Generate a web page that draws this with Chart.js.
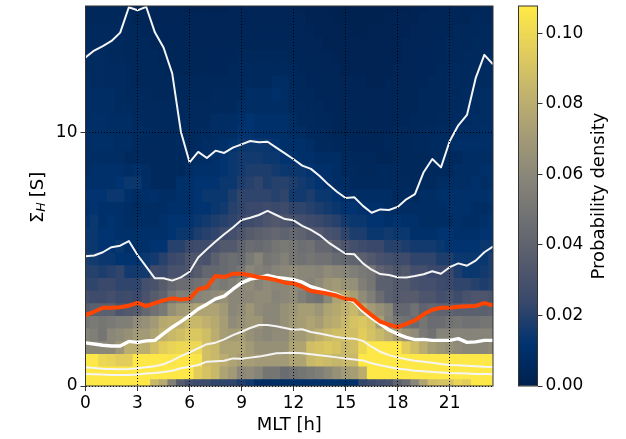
<!DOCTYPE html>
<html>
<head>
<meta charset="utf-8">
<title>Hall conductance vs MLT</title>
<script src="https://cdn.jsdelivr.net/npm/chart.js@4"></script>
<style>
  body { margin: 0; background: #fff; }
  canvas { position: absolute; left: 0; top: 0; }
</style>
</head>
<body>
<canvas id="mainChart" width="626" height="439"></canvas>
<canvas id="colorBar" width="626" height="439"></canvas>
<script>
// Bin centres of the 2D histogram
const mlt = [0,0.5,1,1.5,2,2.5,3,3.5,4,4.5,5,5.5,6,6.5,7,7.5,8,8.5,9,9.5,10,10.5,11,11.5,
             12,12.5,13,13.5,14,14.5,15,15.5,16,16.5,17,17.5,18,18.5,19,19.5,20,20.5,21,21.5,22,22.5,23,23.5];
const sigmaH = [0,0.5,1,1.5,2,2.5,3,3.5,4,4.5,5,5.5,6,6.5,7,7.5,8,8.5,9,9.5,10,10.5,11,11.5,12,12.5,13,13.5,14,14.5,15];
const xTickStep = 3;
const yTickStep = 10;
const barTickStep = 0.02;
const densityMax = 0.1078;

// Probability density per row, in thousandths
const row00 = [107,107,107,107,107,107,107,107,85,78,55,35,28,25,25,22,22,22,18,15,8,8,8,8,
               10,10,10,10,10,10,10,10,22,25,28,30,40,45,60,75,88,90,90,98,95,107,107,107];
const row05 = [107,107,107,107,107,107,107,107,107,107,107,107,107,95,90,85,75,70,60,62,58,50,50,45,
               48,50,52,55,60,65,70,72,80,107,107,107,107,107,107,107,107,107,107,107,107,107,107,107];
const row10 = [107,107,100,98,95,95,107,107,107,107,105,107,107,105,88,85,80,75,72,72,70,70,70,70,
               75,75,85,88,86,84,85,85,107,107,107,107,107,107,107,107,107,107,107,107,107,107,107,107];
const row15 = [60,60,60,60,68,80,80,80,88,95,98,100,100,100,88,85,75,75,75,70,65,65,65,65,
               75,75,88,90,92,90,85,88,100,107,107,107,107,95,88,80,72,68,65,62,60,60,60,62];
const row20 = [58,55,50,60,62,65,70,70,75,82,85,88,92,92,88,80,72,70,72,65,62,60,62,62,
               70,70,75,80,85,88,88,88,95,90,85,80,72,65,62,52,48,58,58,58,58,58,58,58];
const row25 = [50,52,50,52,55,55,62,65,70,78,80,80,85,85,82,78,72,62,65,68,68,60,60,65,
               70,72,75,72,78,80,85,90,92,88,72,58,50,48,45,50,45,45,48,50,48,48,50,50];
const row30 = [35,38,38,38,32,34,35,42,48,52,65,70,72,75,75,75,70,60,62,68,62,60,60,65,
               68,72,72,68,75,78,82,85,78,70,65,60,42,42,48,40,42,40,40,38,38,38,38,40];
const row35 = [28,26,26,28,25,26,24,30,36,40,50,55,55,58,60,62,65,60,60,60,62,62,58,60,
               62,55,50,48,60,75,78,72,62,55,45,38,35,36,36,32,32,28,30,26,30,32,32,30];
const row40 = [22,22,24,24,22,22,22,28,30,36,42,45,45,48,50,55,52,55,60,62,58,62,60,60,
               62,60,58,62,68,70,66,64,55,50,38,38,34,34,30,28,28,26,24,22,22,20,18,20];
const row45 = [20,20,18,20,22,16,16,16,26,24,30,30,32,36,42,42,44,46,50,60,56,54,58,60,
               62,60,60,58,62,60,58,55,52,50,40,36,32,34,28,28,24,24,24,18,14,14,16,18];
const row50 = [18,16,14,14,12,12,12,14,16,20,24,26,32,32,30,38,44,46,44,52,58,50,52,56,
               50,48,50,48,48,44,42,40,38,34,30,28,26,26,22,22,22,18,18,14,14,14,14,18];
const row55 = [15,14,12,12,14,10,10,10,12,12,20,20,24,26,26,30,34,34,40,45,44,46,50,52,
               50,46,48,42,42,36,32,28,26,24,24,20,20,18,16,16,16,14,12,12,12,12,14,14];
const row60 = [14,14,12,12,10,10,10,10,10,10,12,14,14,18,20,22,26,28,32,36,38,40,42,40,
               42,40,36,34,30,28,22,18,18,14,14,16,14,14,10,10,10,12,12,10,10,10,12,12];
const row65 = [12,14,10,12,10,8,8,8,8,10,12,12,12,14,16,18,20,22,24,26,28,32,34,32,
               30,28,26,24,22,20,16,14,14,12,12,10,12,10,10,8,8,8,8,10,8,8,10,12];
const row70 = [10,12,10,10,10,8,7,8,8,8,10,10,10,12,12,14,16,20,22,24,24,26,24,26,
               22,22,20,18,16,14,12,12,10,10,10,8,8,8,8,8,8,8,10,10,10,8,8,10];
const row75 = [12,12,12,14,14,10,8,9,10,8,8,10,10,12,14,14,14,18,22,22,22,22,20,22,
               16,16,18,14,14,12,10,8,8,8,8,8,6,6,6,8,8,10,10,10,10,10,10,12];
const row80 = [10,10,10,10,12,14,14,8,6,6,6,10,10,12,12,12,14,14,18,20,22,18,20,20,
               18,16,14,12,10,8,8,6,6,6,6,6,6,6,5,6,6,8,8,8,8,10,8,10];
const row85 = [8,10,10,10,10,8,10,8,6,6,6,6,8,10,10,10,12,14,16,18,18,18,16,14,
               14,14,12,10,10,8,6,6,5,5,6,6,6,5,5,5,6,6,6,8,8,8,10,10];
const row90 = [8,8,8,8,8,6,6,6,6,6,6,6,6,8,8,10,12,14,16,16,16,14,14,12,
               12,10,10,8,8,8,6,5,5,5,4,4,5,5,5,5,6,6,6,6,8,8,8,8];
const row95 = [8,9,9,9,8,8,7,6,6,6,6,6,6,7,8,8,10,12,14,14,14,14,12,10,
               10,10,8,6,6,5,5,4,4,4,4,5,5,5,6,6,7,7,8,9,9,9,9,9];
const row100 = [9,9,9,8,8,8,7,7,6,6,6,6,6,7,7,8,8,8,12,12,10,10,10,10,
                8,8,6,6,5,4,4,4,4,4,4,4,5,5,5,6,6,7,7,8,8,8,9,9];
const row105 = [8,9,9,8,8,8,7,6,6,6,6,6,6,6,6,8,8,8,10,12,10,10,10,10,
                8,6,6,5,5,4,4,4,3,3,3,3,4,4,5,5,5,6,6,7,7,8,8,8];
const row110 = [8,8,8,8,7,7,6,6,6,6,6,6,6,6,6,6,6,6,8,8,8,8,8,8,
                6,6,5,5,4,4,3,3,3,3,3,3,4,4,4,5,5,5,6,6,7,7,8,8];
const row115 = [8,8,8,8,7,6,6,6,5,5,5,5,5,5,5,6,6,6,6,8,8,8,10,8,
                6,5,5,4,4,3,3,3,3,3,3,3,3,4,4,5,5,5,6,6,7,7,8,8];
const row120 = [8,7,7,7,7,6,5,5,5,5,5,5,5,5,5,5,5,5,6,6,6,6,8,8,
                5,5,4,4,4,3,3,3,3,2,2,3,3,3,4,4,5,5,6,6,6,7,7,7];
const row125 = [7,7,7,7,7,6,5,5,5,5,4,4,4,4,4,4,4,5,5,6,6,6,6,6,
                5,4,4,4,3,3,2,2,2,2,2,2,3,3,3,4,4,5,5,6,6,6,7,7];
const row130 = [7,7,7,6,6,5,5,5,5,4,4,4,4,4,4,4,4,4,5,5,5,5,5,5,
                4,4,3,3,3,2,2,2,2,2,2,2,2,3,3,4,4,4,5,5,6,6,6,7];
const row135 = [7,6,6,6,6,5,5,5,4,4,4,4,3,3,3,3,3,4,4,4,4,4,4,4,
                4,3,3,3,2,2,2,2,2,2,2,2,2,3,3,3,4,4,5,5,5,6,6,6];
const row140 = [6,6,6,6,6,5,5,4,4,4,3,3,3,3,3,3,3,3,3,4,4,4,4,4,
                3,3,3,2,2,2,2,1,1,2,2,2,2,2,3,3,3,4,4,5,5,5,6,6];
const row145 = [5,5,5,5,5,5,4,4,3,3,3,3,3,3,3,3,3,3,3,3,3,3,3,3,
                3,3,2,2,2,1,1,1,1,1,1,2,2,2,2,3,3,3,4,4,4,5,5,5];
const row150 = [5,5,5,5,5,4,4,3,3,3,3,3,2,2,2,2,2,3,3,3,3,3,3,3,
                3,2,2,2,1,1,1,1,1,1,1,1,1,1,2,2,3,3,3,4,4,4,5,5];

const densityRows = [row00,row05,row10,row15,row20,row25,row30,row35,row40,row45,row50,
                     row55,row60,row65,row70,row75,row80,row85,row90,row95,row100,
                     row105,row110,row115,row120,row125,row130,row135,row140,row145,row150];

// Percentile and mean curves
const p95 = [12.97,13.24,13.42,13.62,13.95,14.95,14.83,14.97,13.96,13.36,12.34,10.04,8.83,9.24,9.0,9.29,9.2,9.41,9.54,9.67,9.62,9.64,9.41,9.18,
             8.95,8.70,8.57,8.29,7.96,7.67,7.42,7.45,7.11,6.84,6.97,6.95,7.07,7.37,7.57,8.44,8.96,8.63,9.66,10.29,10.7,12.15,13.07,12.70];
const p75 = [5.12,5.15,5.28,5.48,5.54,5.72,5.17,4.71,4.25,4.25,4.16,4.29,4.51,5.07,5.40,5.70,5.99,6.26,6.55,6.64,6.75,6.91,6.75,6.59,
             6.54,6.32,6.16,5.96,5.67,5.44,5.22,5.20,4.84,4.59,4.42,4.38,4.29,4.28,4.34,4.41,4.53,4.43,4.69,4.84,4.75,4.95,5.28,5.50];
const meanLine = [2.80,2.93,3.09,3.09,3.11,3.17,3.28,3.15,3.27,3.38,3.46,3.41,3.44,3.82,3.90,4.34,4.30,4.43,4.43,4.37,4.29,4.25,4.18,4.08,
                  4.05,3.92,3.75,3.70,3.64,3.56,3.44,3.40,3.07,2.80,2.54,2.42,2.32,2.45,2.59,2.83,3.01,3.09,3.09,3.13,3.15,3.16,3.27,3.19];
const p50 = [1.70,1.66,1.61,1.58,1.58,1.76,1.72,1.78,1.80,2.07,2.32,2.54,2.78,3.04,3.23,3.44,3.55,3.82,4.07,4.22,4.28,4.37,4.29,4.25,
             4.20,4.10,3.92,3.82,3.72,3.62,3.44,3.33,2.96,2.69,2.45,2.21,2.05,1.92,1.83,1.84,1.80,1.80,1.80,1.87,1.72,1.74,1.80,1.80];
const p25 = [0.74,0.71,0.68,0.67,0.66,0.67,0.70,0.74,0.78,0.86,1.00,1.18,1.33,1.49,1.65,1.71,1.84,2.01,2.14,2.29,2.41,2.41,2.36,2.29,
             2.22,2.24,2.13,2.07,2.00,1.93,1.88,1.87,1.78,1.55,1.35,1.22,1.13,1.06,1.00,0.96,0.92,0.87,0.83,0.82,0.80,0.78,0.76,0.75];
const p05 = [0.47,0.46,0.45,0.43,0.43,0.43,0.45,0.49,0.51,0.55,0.60,0.70,0.76,0.83,0.96,0.98,1.00,1.09,1.08,1.12,1.16,1.22,1.29,1.30,
             1.31,1.29,1.25,1.21,1.17,1.13,1.09,1.05,1.01,0.90,0.82,0.75,0.68,0.65,0.60,0.58,0.55,0.53,0.51,0.50,0.49,0.47,0.47,0.46];

// Cividis colormap stops
const cividis = ['#00204d','#00336f','#39486b','#575c6d','#707173','#8a8779','#a69d75','#c4b56c','#e4cf5b','#ffea46'];

function hexToRgb(hex) {
    return [1, 3, 5].map(i => parseInt(hex.substr(i, 2), 16));
}

// Density value to a colour along the colormap
function densityColor(value) {
    let t = Math.min(value / densityMax, 1) * (cividis.length - 1);
    let i = Math.min(Math.floor(t), cividis.length - 2);
    let a = hexToRgb(cividis[i]);
    let b = hexToRgb(cividis[i + 1]);
    let f = t - i;
    let rgb = a.map((c, k) => Math.round(c + (b[k] - c) * f));
    return `rgb(${rgb[0]},${rgb[1]},${rgb[2]})`;
}

const tickFont = { family: '"DejaVu Sans"', size: 17 };
const labelFont = { family: '"DejaVu Sans"', size: 18 };
const frameColor = '#333';

// Box around the plot area, like the axes spines
const framePlugin = {
    id: 'frame',
    afterDraw(chart) {
        let a = chart.chartArea;
        let ctx = chart.ctx;
        ctx.save();
        ctx.strokeStyle = frameColor;
        ctx.lineWidth = 1;
        ctx.strokeRect(a.left, a.top, a.right - a.left, a.bottom - a.top);
        ctx.restore();
    }
};

// The y label needs a subscript, the axis title can't do that
const sigmaLabelPlugin = {
    id: 'sigmaLabel',
    afterDraw(chart) {
        let ctx = chart.ctx;
        ctx.save();
        ctx.translate(38, 195);
        ctx.rotate(-Math.PI / 2);
        ctx.fillStyle = '#000';
        ctx.textBaseline = 'middle';
        ctx.textAlign = 'left';
        ctx.font = '18px "DejaVu Sans"';
        ctx.fillText('Σ', -28, 0);
        let x = -28 + ctx.measureText('Σ').width;
        ctx.font = 'italic 12.6px "DejaVu Sans"';
        ctx.fillText('H', x, 4);
        x += ctx.measureText('H').width + 5;
        ctx.font = '18px "DejaVu Sans"';
        ctx.fillText('[S]', x, 0);
        ctx.restore();
    }
};

// Right axis titles turn the other way in Chart.js, the colour bar label reads upwards
const barLabelPlugin = {
    id: 'barLabel',
    afterDraw(chart) {
        let ctx = chart.ctx;
        ctx.save();
        ctx.translate(599, 196);
        ctx.rotate(-Math.PI / 2);
        ctx.fillStyle = '#000';
        ctx.textBaseline = 'middle';
        ctx.textAlign = 'center';
        ctx.font = '18px "DejaVu Sans"';
        ctx.fillText('Probability density', 0, 0);
        ctx.restore();
    }
};

// One floating bar dataset per row of the histogram
const heatDatasets = densityRows.map((row, r) => ({
    type: 'bar',
    order: 2,
    grouped: false,
    barPercentage: 1,
    categoryPercentage: 1,
    borderWidth: 0,
    inflateAmount: 0.4,
    data: row.map((v, c) => ({ x: mlt[c], y: [sigmaH[r] - 0.25, sigmaH[r] + 0.25] })),
    backgroundColor: row.map(v => densityColor(v / 1000))
}));

function curve(values, color, width, order) {
    return {
        type: 'line',
        order: order,
        data: values.map((v, c) => ({ x: mlt[c], y: v })),
        borderColor: color,
        borderWidth: width,
        pointRadius: 0,
        tension: 0,
        borderJoinStyle: 'round'
    };
}

const lineDatasets = [
    curve(meanLine, '#ff4500', 4, 0),
    curve(p50, '#ffffff', 3.4, 1),
    curve(p95, '#f5f5f5', 2, 1),
    curve(p75, '#f5f5f5', 2, 1),
    curve(p25, '#f5f5f5', 2, 1),
    curve(p05, '#f5f5f5', 2, 1)
];

new Chart(document.getElementById('mainChart'), {
    type: 'bar',
    data: { datasets: lineDatasets.concat(heatDatasets) },
    options: {
        responsive: false,
        animation: false,
        events: [],
        layout: { padding: { top: 6, right: 133, left: 0, bottom: 0 } },
        plugins: { legend: { display: false }, tooltip: { enabled: false } },
        scales: {
            x: {
                type: 'linear',
                offset: false,
                min: 0,
                max: 23.5,
                afterFit(scale) { scale.height = 53; },
                grid: { offset: false, color: '#000', lineWidth: 1, z: 1, tickLength: 5, tickColor: frameColor, tickBorderDash: [] },
                border: { display: false, dash: [1, 2] },
                ticks: { stepSize: xTickStep, includeBounds: false, autoSkip: false, maxRotation: 0, color: '#000', font: tickFont, padding: 2 },
                title: { display: true, text: 'MLT [h]', color: '#000', font: labelFont, padding: { top: 0, bottom: 3 } }
            },
            y: {
                min: 0,
                max: 15,
                afterFit(scale) {
                    scale.width = 85.5;
                    scale.paddingTop = 0;
                    scale.paddingBottom = 0;
                },
                grid: { color: '#000', lineWidth: 1, z: 1, tickLength: 5, tickColor: frameColor, tickBorderDash: [] },
                border: { display: false, dash: [1, 2] },
                ticks: { stepSize: yTickStep, includeBounds: false, color: '#000', font: tickFont, padding: 3 }
            }
        }
    },
    plugins: [framePlugin, sigmaLabelPlugin]
});

// Colour bar: second chart with a single gradient bar and its own axis
function barGradient(context) {
    let area = context.chart.chartArea;
    if (!area) return cividis[0];
    let g = context.chart.ctx.createLinearGradient(0, area.bottom, 0, area.top);
    cividis.forEach((c, i) => g.addColorStop(i / (cividis.length - 1), c));
    return g;
}

new Chart(document.getElementById('colorBar'), {
    type: 'bar',
    data: {
        labels: [''],
        datasets: [{
            data: [[0, densityMax]],
            backgroundColor: barGradient,
            barPercentage: 1,
            categoryPercentage: 1,
            borderWidth: 0
        }]
    },
    options: {
        responsive: false,
        animation: false,
        events: [],
        layout: { padding: { top: 6, right: 14, left: 518.5, bottom: 53 } },
        plugins: { legend: { display: false }, tooltip: { enabled: false } },
        scales: {
            x: { display: false },
            y: {
                position: 'right',
                min: 0,
                max: densityMax,
                afterFit(scale) {
                    scale.width = 74.5;
                    scale.paddingTop = 0;
                    scale.paddingBottom = 0;
                },
                grid: { drawOnChartArea: false, tickLength: 5, tickColor: frameColor },
                border: { display: false },
                ticks: {
                    stepSize: barTickStep,
                    includeBounds: false,
                    color: '#000',
                    font: tickFont,
                    padding: 3,
                    callback: v => v.toFixed(2)
                }
            }
        }
    },
    plugins: [framePlugin, barLabelPlugin]
});
</script>
</body>
</html>
